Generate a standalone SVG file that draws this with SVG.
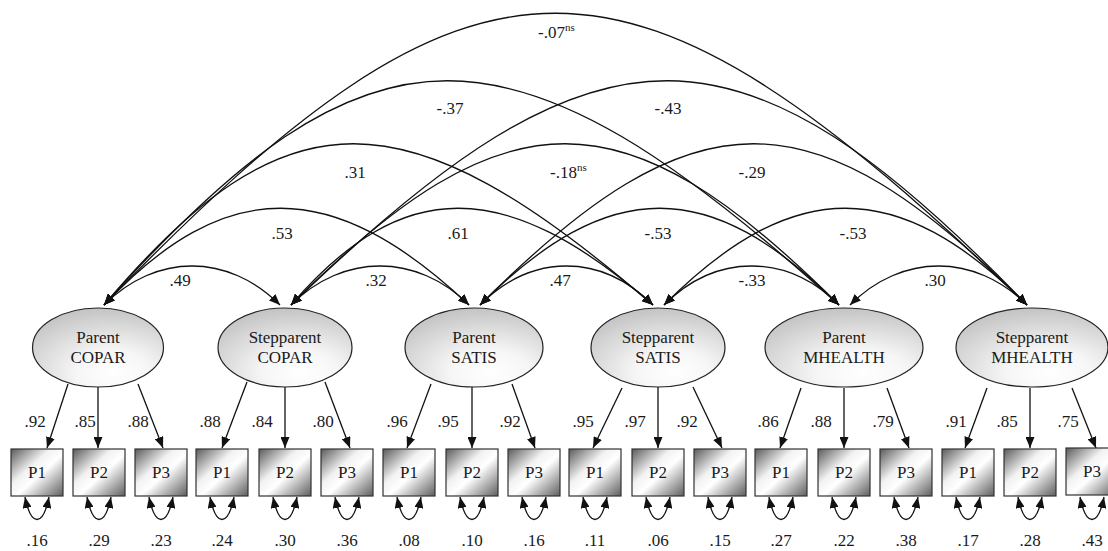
<svg xmlns="http://www.w3.org/2000/svg" width="1108" height="551" viewBox="0 0 1108 551">
<defs>
<style>
text{font-family:"Liberation Serif","Times New Roman",serif;font-size:17px;fill:#1a1a1a;text-anchor:middle}
.sup{font-size:11px}
.arc{fill:none;stroke:#111;stroke-width:1.3;marker-start:url(#ah);marker-end:url(#ah)}
.ld{fill:none;stroke:#111;stroke-width:1.3;marker-end:url(#ah)}
.err{fill:none;stroke:#111;stroke-width:1.3;marker-start:url(#ah);marker-end:url(#ah)}
.lat{fill:url(#eg);stroke:#222;stroke-width:1.2}
.obs{fill:url(#bg);stroke:#333;stroke-width:1.2}
</style>
<marker id="ah" viewBox="0 0 11 9" refX="11" refY="4.5" markerWidth="11" markerHeight="9" markerUnits="userSpaceOnUse" orient="auto-start-reverse">
<path d="M0,0 L11,4.5 L0,9 z" fill="#111"/>
</marker>
<radialGradient id="eg" cx="0.6" cy="0.8" r="0.8" fx="0.62" fy="0.82">
<stop offset="0" stop-color="#ffffff"/>
<stop offset="0.35" stop-color="#f6f6f6"/>
<stop offset="1" stop-color="#c4c4c4"/>
</radialGradient>
<linearGradient id="bg" x1="0" y1="0" x2="1" y2="1">
<stop offset="0" stop-color="#5a5a5a"/>
<stop offset="0.38" stop-color="#f2f2f2"/>
<stop offset="0.55" stop-color="#ffffff"/>
<stop offset="1" stop-color="#5e5e5e"/>
</linearGradient>
</defs>
<rect width="1108" height="551" fill="#fff"/>

<g id="connectors">
<path class="arc" d="M104,305 C156,253 228,253 280,305"/>
<path class="arc" d="M291,305 C343,253 417,253 469,305"/>
<path class="arc" d="M480,305 C532,253 601,253 653,305"/>
<path class="arc" d="M664,305 C716,253 787,253 839,305"/>
<path class="arc" d="M850,305 C902,253 975,253 1027,305"/>
<path class="arc" d="M104,305 C225,176 332,176 469,305"/>
<path class="arc" d="M291,305 C402,176 505,176 653,305"/>
<path class="arc" d="M480,305 C609,176 710,176 839,305"/>
<path class="arc" d="M664,305 C793,176 898,176 1027,305"/>
<path class="arc" d="M104,305 C286,90 404,90 653,305"/>
<path class="arc" d="M291,305 C506,90 624,90 839,305"/>
<path class="arc" d="M480,305 C695,90 812,90 1027,305"/>
<path class="arc" d="M104,305 C371,6 508,6 839,305"/>
<path class="arc" d="M291,305 C600,6 739,6 1027,305"/>
<path class="arc" d="M104,305 C480,-84 624,-84 1027,305"/>

<path class="ld" d="M68,384 L47,448"/>
<path class="ld" d="M98,387 L98,448"/>
<path class="ld" d="M138,384 L163,448"/>
<path class="ld" d="M247,382 L222,448"/>
<path class="ld" d="M285,387 L285,448"/>
<path class="ld" d="M325,382 L350,448"/>
<path class="ld" d="M431,384 L407,448"/>
<path class="ld" d="M472,387 L472,448"/>
<path class="ld" d="M512,384 L535,448"/>
<path class="ld" d="M622,388 L593,448"/>
<path class="ld" d="M658,387 L658,448"/>
<path class="ld" d="M693,387 L722,448"/>
<path class="ld" d="M801,388 L780,448"/>
<path class="ld" d="M844,388 L844,448"/>
<path class="ld" d="M887,388 L909,448"/>
<path class="ld" d="M987,388 L965,448"/>
<path class="ld" d="M1030,388 L1030,448"/>
<path class="ld" d="M1072,388 L1096,448"/>

<path class="err" d="M25,497 C31,527 43,527 49,497"/>
<path class="err" d="M87,497 C93,527 105,527 111,497"/>
<path class="err" d="M149,497 C155,527 167,527 173,497"/>
<path class="err" d="M210,497 C216,527 228,527 234,497"/>
<path class="err" d="M273,497 C279,527 291,527 297,497"/>
<path class="err" d="M335,497 C341,527 353,527 359,497"/>
<path class="err" d="M397,497 C403,527 415,527 421,497"/>
<path class="err" d="M460,497 C466,527 478,527 484,497"/>
<path class="err" d="M522,497 C528,527 540,527 546,497"/>
<path class="err" d="M583,497 C589,527 601,527 607,497"/>
<path class="err" d="M646,497 C652,527 664,527 670,497"/>
<path class="err" d="M708,497 C714,527 726,527 732,497"/>
<path class="err" d="M769,497 C775,527 787,527 793,497"/>
<path class="err" d="M832,497 C838,527 850,527 856,497"/>
<path class="err" d="M894,497 C900,527 912,527 918,497"/>
<path class="err" d="M956,497 C962,527 974,527 980,497"/>
<path class="err" d="M1018,497 C1024,527 1036,527 1042,497"/>
<path class="err" d="M1080,497 C1086,527 1098,527 1104,497"/>
</g>

<g id="covariance-labels">
<text x="180" y="286">.49</text>
<text x="376" y="286">.32</text>
<text x="560" y="286">.47</text>
<text x="752" y="286">-.33</text>
<text x="935" y="286">.30</text>
<text x="282" y="239">.53</text>
<text x="458" y="239">.61</text>
<text x="658" y="239">-.53</text>
<text x="853" y="239">-.53</text>
<text x="355" y="178">.31</text>
<text x="550" y="178" style="text-anchor:start">-.18<tspan class="sup" dy="-7">ns</tspan></text>
<text x="752" y="178">-.29</text>
<text x="450" y="114">-.37</text>
<text x="668" y="114">-.43</text>
<text x="538" y="38" style="text-anchor:start">-.07<tspan class="sup" dy="-7">ns</tspan></text>
</g>

<g id="loading-labels">
<text x="35" y="427">.92</text>
<text x="85" y="427">.85</text>
<text x="138" y="427">.88</text>
<text x="210" y="427">.88</text>
<text x="262" y="427">.84</text>
<text x="323" y="427">.80</text>
<text x="397" y="427">.96</text>
<text x="448" y="427">.95</text>
<text x="510" y="427">.92</text>
<text x="583" y="427">.95</text>
<text x="635" y="427">.97</text>
<text x="687" y="427">.92</text>
<text x="768" y="427">.86</text>
<text x="821" y="427">.88</text>
<text x="883" y="427">.79</text>
<text x="956" y="427">.91</text>
<text x="1007" y="427">.85</text>
<text x="1068" y="427">.75</text>
</g>

<g id="parent-copar">
<ellipse class="lat" cx="98" cy="347.5" rx="65.5" ry="39.5"/>
<text x="98" y="343">Parent</text>
<text x="98" y="363">COPAR</text>
</g>
<g id="stepparent-copar">
<ellipse class="lat" cx="285" cy="347.5" rx="67" ry="39.5"/>
<text x="285" y="343">Stepparent</text>
<text x="285" y="363">COPAR</text>
</g>
<g id="parent-satis">
<ellipse class="lat" cx="474" cy="347.5" rx="69" ry="39.5"/>
<text x="474" y="343">Parent</text>
<text x="474" y="363">SATIS</text>
</g>
<g id="stepparent-satis">
<ellipse class="lat" cx="658" cy="347.5" rx="67" ry="39.5"/>
<text x="658" y="343">Stepparent</text>
<text x="658" y="363">SATIS</text>
</g>
<g id="parent-mhealth">
<ellipse class="lat" cx="844" cy="347.5" rx="79" ry="39.5"/>
<text x="844" y="343">Parent</text>
<text x="844" y="363">MHEALTH</text>
</g>
<g id="stepparent-mhealth">
<ellipse class="lat" cx="1032" cy="347.5" rx="76" ry="39.5"/>
<text x="1032" y="343">Stepparent</text>
<text x="1032" y="363">MHEALTH</text>
</g>

<g id="pc-p1"><rect class="obs" x="11" y="449" width="52" height="47"/><text x="37" y="478">P1</text><text x="37" y="546">.16</text></g>
<g id="pc-p2"><rect class="obs" x="73" y="449" width="52" height="47"/><text x="99" y="478">P2</text><text x="99" y="546">.29</text></g>
<g id="pc-p3"><rect class="obs" x="135" y="449" width="52" height="47"/><text x="161" y="478">P3</text><text x="161" y="546">.23</text></g>
<g id="sc-p1"><rect class="obs" x="196" y="449" width="52" height="47"/><text x="222" y="478">P1</text><text x="222" y="546">.24</text></g>
<g id="sc-p2"><rect class="obs" x="259" y="449" width="52" height="47"/><text x="285" y="478">P2</text><text x="285" y="546">.30</text></g>
<g id="sc-p3"><rect class="obs" x="321" y="449" width="52" height="47"/><text x="347" y="478">P3</text><text x="347" y="546">.36</text></g>
<g id="ps-p1"><rect class="obs" x="383" y="449" width="52" height="47"/><text x="409" y="478">P1</text><text x="409" y="546">.08</text></g>
<g id="ps-p2"><rect class="obs" x="446" y="449" width="52" height="47"/><text x="472" y="478">P2</text><text x="472" y="546">.10</text></g>
<g id="ps-p3"><rect class="obs" x="508" y="449" width="52" height="47"/><text x="534" y="478">P3</text><text x="534" y="546">.16</text></g>
<g id="ss-p1"><rect class="obs" x="569" y="449" width="52" height="47"/><text x="595" y="478">P1</text><text x="595" y="546">.11</text></g>
<g id="ss-p2"><rect class="obs" x="632" y="449" width="52" height="47"/><text x="658" y="478">P2</text><text x="658" y="546">.06</text></g>
<g id="ss-p3"><rect class="obs" x="694" y="449" width="52" height="47"/><text x="720" y="478">P3</text><text x="720" y="546">.15</text></g>
<g id="pm-p1"><rect class="obs" x="755" y="449" width="52" height="47"/><text x="781" y="478">P1</text><text x="781" y="546">.27</text></g>
<g id="pm-p2"><rect class="obs" x="818" y="449" width="52" height="47"/><text x="844" y="478">P2</text><text x="844" y="546">.22</text></g>
<g id="pm-p3"><rect class="obs" x="880" y="449" width="52" height="47"/><text x="906" y="478">P3</text><text x="906" y="546">.38</text></g>
<g id="sm-p1"><rect class="obs" x="942" y="449" width="52" height="47"/><text x="968" y="478">P1</text><text x="968" y="546">.17</text></g>
<g id="sm-p2"><rect class="obs" x="1004" y="449" width="52" height="47"/><text x="1030" y="478">P2</text><text x="1030" y="546">.28</text></g>
<g id="sm-p3"><rect class="obs" x="1066" y="448" width="52" height="47"/><text x="1092" y="477">P3</text><text x="1092" y="546">.43</text></g>
</svg>
